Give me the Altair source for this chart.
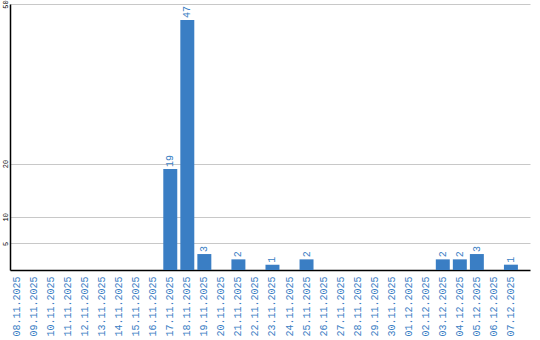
import altair as alt
import pandas as pd

dates = ["08.11.2025", "09.11.2025", "10.11.2025", "11.11.2025", "12.11.2025",
         "13.11.2025", "14.11.2025", "15.11.2025", "16.11.2025", "17.11.2025",
         "18.11.2025", "19.11.2025", "20.11.2025", "21.11.2025", "22.11.2025",
         "23.11.2025", "24.11.2025", "25.11.2025", "26.11.2025", "27.11.2025",
         "28.11.2025", "29.11.2025", "30.11.2025", "01.12.2025", "02.12.2025",
         "03.12.2025", "04.12.2025", "05.12.2025", "06.12.2025", "07.12.2025"]
values = [0, 0, 0, 0, 0, 0, 0, 0, 0, 19,
          47, 3, 0, 2, 0, 1, 0, 2, 0, 0,
          0, 0, 0, 0, 0, 2, 2, 3, 0, 1]
y_ticks = [5, 10, 20, 50]

df = pd.DataFrame({"date": dates, "value": values})

BLUE = "#3a7ec4"
FONT = "Liberation Mono"

x = alt.X("date:O", sort=None, title=None,
          scale=alt.Scale(paddingInner=0.18, paddingOuter=0.355, align=0),
          axis=alt.Axis(labelAngle=-90, labelColor=BLUE, labelFont=FONT,
                        labelFontSize=10, ticks=False, tickSize=0, labelPadding=6,
                        domainColor="#000000", domainWidth=1.5, grid=False,
                        labelOverlap=False))
y = alt.Y("value:Q", title=None,
          scale=alt.Scale(domain=[0, 50], nice=False),
          axis=alt.Axis(values=y_ticks, labelAngle=-90, labelFont=FONT,
                        labelFontSize=7, labelColor="#000000", ticks=False,
                        tickSize=0, labelPadding=2, labelAlign="center",
                        labelBaseline="bottom", domainColor="#000000",
                        domainWidth=1.5, gridColor="#c8c8c8", gridWidth=1,
                        labelOverlap=False, labelFlush=False))

bars = alt.Chart(df).mark_bar(color=BLUE).encode(x=x, y=y)
texts = alt.Chart(df).transform_filter("datum.value > 0").mark_text(
    angle=270, align="left", baseline="middle", dx=2, color=BLUE,
    font=FONT, fontSize=10
).encode(x=alt.X("date:O", sort=None), y="value:Q", text="value:Q")

chart = (bars + texts).properties(
    width=520, height=266,
    autosize=alt.AutoSizeParams(type="none"),
    padding={"left": 10, "top": 4, "right": 10, "bottom": 70},
    background="white",
).configure_view(stroke=None)

chart.save("out.html", embed_options={"renderer": "svg", "actions": False})
